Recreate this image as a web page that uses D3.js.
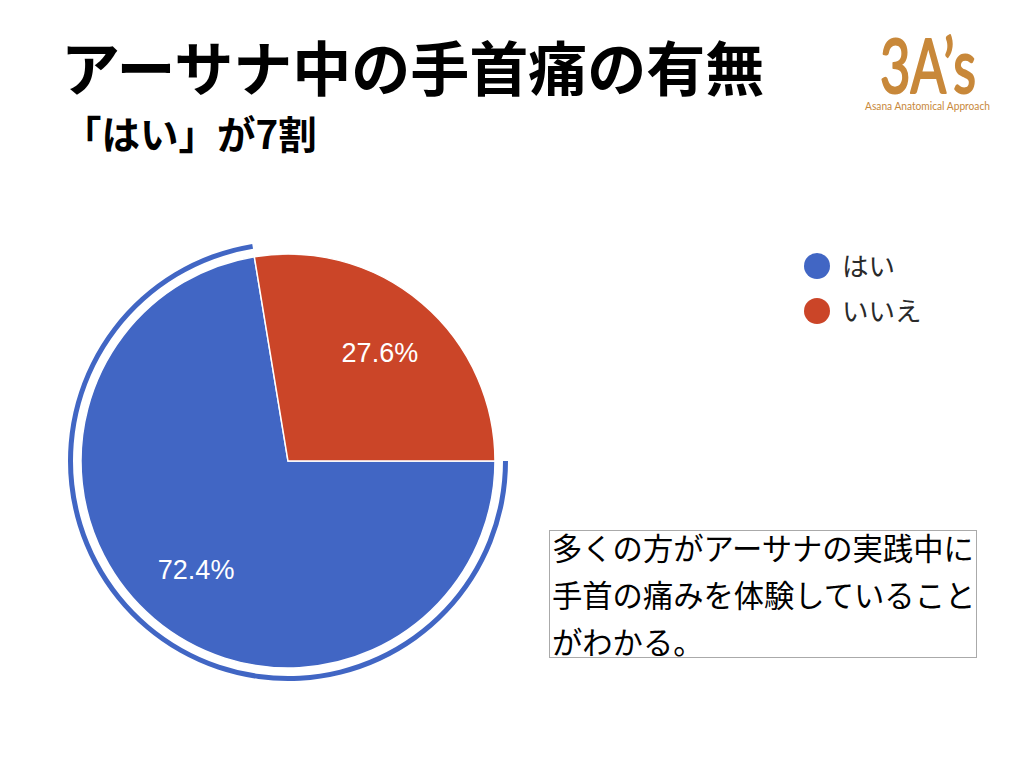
<!DOCTYPE html>
<html><head><meta charset="utf-8">
<script src="https://cdn.jsdelivr.net/npm/d3@7"></script>
<style>
html,body{margin:0;padding:0;background:#fff;}
svg{display:block;}
</style></head>
<body>
<svg id="chart" width="1024" height="768"></svg>
<script>
// ---- data ----
const titleText = "アーサナ中の手首痛の有無";
const subtitleText = "「はい」が7割";
const categories = ["はい", "いいえ"];
const values = [72.4, 27.6];
const colors = ["#4166C4", "#CB4528"];
const noteLines = ["多くの方がアーサナの実践中に", "手首の痛みを体験していること", "がわかる。"];
const logoMain = "3A’s";
const logoSub = "Asana Anatomical Approach";

const svg = d3.select("#chart");
svg.append("rect").attr("width",1024).attr("height",768).attr("fill","#fff");

const jp = "'Noto Sans CJK JP', 'Noto Sans', sans-serif";

// title
svg.append("text").attr("x",61).attr("y",91)
  .attr("font-family",jp).attr("font-weight",700).attr("font-size",59)
  .attr("fill","#000").text(titleText);
svg.append("text").attr("x",63).attr("y",149)
  .attr("font-family",jp).attr("font-weight",700).attr("font-size",38.5)
  .attr("fill","#000").text(subtitleText);

// logo
const logoColor = "#C8883A";
svg.append("text").attr("x",880).attr("y",93)
  .attr("font-family","Lato, 'DejaVu Sans', sans-serif").attr("font-weight",400)
  .attr("font-size",76).attr("fill",logoColor)
  .attr("stroke",logoColor).attr("stroke-width",2.2).attr("stroke-linejoin","round")
  .attr("textLength",96).attr("lengthAdjust","spacingAndGlyphs")
  .text(logoMain);
svg.append("text").attr("x",865).attr("y",110)
  .attr("font-family","Lato, 'DejaVu Sans', sans-serif")
  .attr("font-size",10.5).attr("fill",logoColor)
  .attr("textLength",125).attr("lengthAdjust","spacingAndGlyphs")
  .text(logoSub);

// pie
const cx = 288, cy = 461, r = 207;
const g = svg.append("g").attr("transform",`translate(${cx},${cy})`);
const pie = d3.pie().sort(null).value(d=>d)
  .startAngle(Math.PI/2).endAngle(Math.PI/2 + 2*Math.PI);
const arcs = pie(values);
const arc = d3.arc().innerRadius(0).outerRadius(r);
g.selectAll("path.slice").data(arcs).join("path")
  .attr("class","slice")
  .attr("d",arc)
  .attr("fill",(d,i)=>colors[i])
  .attr("stroke","#fff").attr("stroke-width",1.5);

// highlight ring on first slice
const ring = d3.arc().innerRadius(215).outerRadius(220);
g.append("path").attr("d",ring(arcs[0])).attr("fill",colors[0]);

// labels
const labelArc = d3.arc().innerRadius(142).outerRadius(142);
g.selectAll("text.lbl").data(arcs).join("text")
  .attr("class","lbl")
  .attr("transform",d=>`translate(${labelArc.centroid(d)})`)
  .attr("text-anchor","middle").attr("dy","0.36em")
  .attr("font-family","'Liberation Sans', Arial, sans-serif")
  .attr("font-size",27).attr("fill","#fff")
  .text(d=>d.data.toFixed(1)+"%");

// legend
const lg = svg.append("g");
categories.forEach((c,i)=>{
  const y = 266 + i*45;
  lg.append("circle").attr("cx",817).attr("cy",y).attr("r",13).attr("fill",colors[i]);
  lg.append("text").attr("x",842).attr("y",y).attr("dy","0.36em")
    .attr("font-family",jp).attr("font-size",26.5).attr("fill","#2a2a2a").text(c);
});

// note box
svg.append("rect").attr("x",549.5).attr("y",530.5).attr("width",427).attr("height",127)
  .attr("fill","#fff").attr("stroke","#aaa").attr("stroke-width",1);
noteLines.forEach((t,i)=>{
  svg.append("text").attr("x",552).attr("y",560 + i*47)
    .attr("font-family",jp).attr("font-size",30.3).attr("fill","#000").text(t);
});
</script>
</body></html>
